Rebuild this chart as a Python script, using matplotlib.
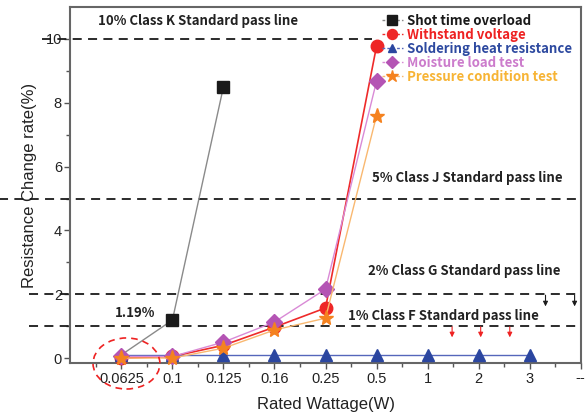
import matplotlib
matplotlib.use("Agg")
import matplotlib.pyplot as plt
from matplotlib.lines import Line2D
from matplotlib.patches import Ellipse

plt.rcParams['font.family'] = ['Liberation Sans', 'DejaVu Sans']

# ---- data ----
categories = ["0.0625", "0.1", "0.125", "0.16", "0.25", "0.5", "1", "2", "3", "--"]
shot_time_overload = [0.1, 1.19, 8.5]
withstand_voltage = [0.0, 0.05, 0.4, 0.97, 1.57, 9.78]
soldering_heat = [0.1, 0.1, 0.1, 0.1, 0.1, 0.1, 0.1, 0.1, 0.1]
moisture_load = [0.05, 0.05, 0.5, 1.13, 2.16, 8.68]
pressure_condition = [0.0, 0.0, 0.31, 0.88, 1.25, 7.6]
series_names = ["Shot time overload", "Withstand voltage", "Soldering heat resistance",
                "Moisture load test", "Pressure condition test"]
pass_levels = [10, 5, 2, 1]
pass_labels = ["10% Class K Standard pass line", "5% Class J Standard pass line",
               "2% Class G Standard pass line", "1% Class F Standard pass line"]

fig = plt.figure(figsize=(5.86, 4.16), dpi=100)
ax = fig.add_axes([0.120, 0.127, 0.871, 0.856])

pos = list(range(1, len(categories) + 1))

styles = [
    dict(color="#8a8a8a", marker="s", mfc="#1a1a1a", mec="#1a1a1a", ms=8.5, lw=1.0),
    dict(color="#ee2a2a", marker="o", mfc="#ee2626", mec="#ee2626", ms=9, lw=1.2),
    dict(color="#5566bb", marker="^", mfc="#2b46a0", mec="#2b46a0", ms=8, lw=1.0),
    dict(color="#d98ad6", marker="D", mfc="#b454b4", mec="#b454b4", ms=8, lw=1.0),
    dict(color="#f9b870", marker="*", mfc="#f5821f", mec="#f5821f", ms=11, lw=1.0),
]
data = [shot_time_overload, withstand_voltage, soldering_heat, moisture_load, pressure_condition]
text_colors = ["#1a1a1a", "#ee2222", "#2e4aa0", "#cc7ccc", "#f7b435"]
zorders = [3, 4, 5, 6, 7]
markevery = [[1, 2], None, None, None, None]

for vals, st, z, me in zip(data, styles, zorders, markevery):
    ax.plot(pos[:len(vals)], vals, zorder=z, clip_on=False, markevery=me, **st)

# pass lines
dash = (0, (5, 3.5))
line_spans = [(-0.055, 0.592), (-0.14, 1.0), (-0.08, 1.0), (-0.08, 1.0)]
trans = ax.get_yaxis_transform()
for lvl, (x0, x1) in zip(pass_levels, line_spans):
    ax.plot([x0, x1], [lvl, lvl], transform=trans, color="#1a1a1a", lw=1.3,
            linestyle=dash, clip_on=False, zorder=2)

tfont = dict(family=['Noto Sans CJK KR', 'DejaVu Sans'], fontweight='bold', fontsize=9.5,
             color="#222222", ha='center', va='center')
ax.text(2.5, 10.56, pass_labels[0], **tfont)
ax.text(7.77, 5.64, pass_labels[1], **tfont)
ax.text(7.71, 2.73, pass_labels[2], **tfont)
ax.text(7.3, 1.32, pass_labels[3], **tfont)
ax.text(1.27, 1.41, "1.19%", **tfont)

# small arrows
for xa in [9.31, 9.88]:
    ax.annotate("", xy=(xa, 1.62), xytext=(xa, 1.97),
                arrowprops=dict(arrowstyle="-|>", color="#1a1a1a", lw=0.8,
                                mutation_scale=7, shrinkA=0, shrinkB=0))
for xa in [7.48, 8.04, 8.61]:
    ax.annotate("", xy=(xa, 0.65), xytext=(xa, 0.98),
                arrowprops=dict(arrowstyle="-|>", color="#ee2222", lw=0.8,
                                mutation_scale=7, shrinkA=0, shrinkB=0))

# dashed ellipse
ell = Ellipse((1.1, -0.17), 1.31, 1.6, fill=False, edgecolor="#ee2222", lw=1.2,
              linestyle=(0, (4, 3)), clip_on=False, zorder=8)
ax.add_patch(ell)

ax.set_xlim(0, 10)
ax.set_ylim(-0.16, 11.0)
ax.set_xticks(pos)
ax.set_xticklabels(categories)
ax.set_xticks([p - 0.5 for p in pos], minor=True)
ax.set_yticks([0, 2, 4, 6, 8, 10])
ax.set_yticks([1, 3, 5, 7, 9], minor=True)
ax.tick_params(axis='both', which='major', labelsize=10.5, length=4, width=1.0,
               color="#555555", labelcolor="#222222", direction='out', pad=2)
ax.tick_params(axis='both', which='minor', length=3, width=1.0, color="#555555", direction='out')
for sp in ax.spines.values():
    sp.set_color("#666666")
    sp.set_linewidth(1.5)

ax.set_xlabel("Rated Wattage(W)", fontsize=12, color="#222222", labelpad=8)
ax.set_ylabel("Resistance Change rate(%)", fontsize=12, color="#222222", labelpad=6)

handles = [Line2D([], [], linestyle=(0, (2, 1.5)), **{k: v for k, v in st.items() if k != 'lw'}, lw=1.0)
           for st in styles]
for h in handles:
    h.set_markersize(h.get_markersize() * 0.8)
leg = ax.legend(handles, series_names, loc='upper right', bbox_to_anchor=(0.995, 1.0),
                frameon=False, handlelength=1.6, handletextpad=0.3, labelspacing=0.0,
                borderaxespad=0.1,
                prop=dict(family=['Noto Sans CJK KR', 'DejaVu Sans'], weight='bold', size=9.5))
for t, c in zip(leg.get_texts(), text_colors):
    t.set_color(c)

fig.savefig("out.png", dpi=100)
